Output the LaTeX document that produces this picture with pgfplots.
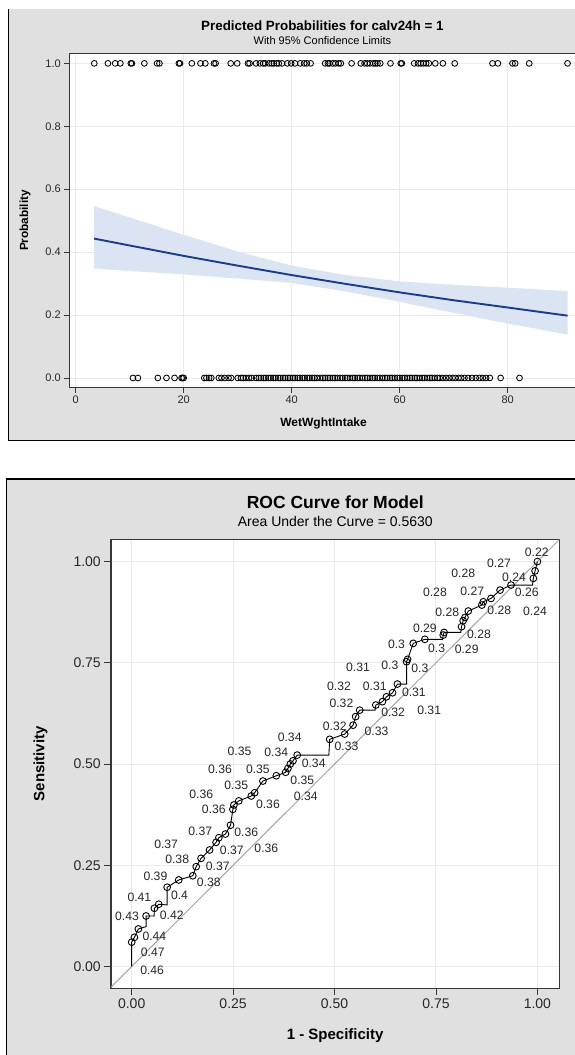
\documentclass[border=0pt]{standalone}
\usepackage{fontspec}
\setmainfont{Liberation Sans}
\usepackage{pgfplots}
\usepackage{pgfplotstable}
\pgfplotsset{compat=1.18}
\definecolor{panelgray}{RGB}{224,224,224}
\definecolor{framegray}{RGB}{55,55,55}
\definecolor{gridgray}{RGB}{234,234,234}
\definecolor{bandblue}{RGB}{218,228,242}
\definecolor{fitblue}{RGB}{28,60,138}
\definecolor{diaggray}{RGB}{165,165,165}
\definecolor{ticktext}{RGB}{40,40,40}

% ---------- top panel data ----------
\pgfplotstableread{
x y
3.43 1
5.95 1
7.3 1
8.26 1
10.2 1
10.4 1
12.7 1
15.06 1
15.5 1
19.1 1
19.3 1
21.5 1
23.1 1
24.0 1
25.6 1
25.9 1
28.7 1
29.9 1
31.9 1
32.2 1
33.4 1
34.1 1
34.7 1
35.1 1
35.8 1
36.3 1
36.7 1
37.2 1
37.6 1
38.2 1
39.2 1
39.9 1
40.6 1
41.6 1
42.3 1
42.8 1
43.5 1
46.2 1
46.7 1
47.0 1
47.6 1
48.1 1
48.7 1
49.1 1
51.1 1
52.8 1
53.5 1
54.0 1
54.5 1
55.1 1
55.5 1
55.9 1
56.4 1
58.3 1
60.2 1
60.4 1
62.7 1
63.4 1
63.9 1
64.4 1
64.9 1
65.4 1
66.6 1
68.0 1
70.2 1
77.2 1
78.2 1
80.9 1
81.4 1
84.0 1
91.1 1
}\obsone

\pgfplotstableread{
x y
10.6 0
11.5 0
15.2 0
16.8 0
18.3 0
19.6 0
19.8 0
20.0 0
23.8 0
24.2 0
24.7 0
25.1 0
26.5 0
27.0 0
27.6 0
28.3 0
28.8 0
30.0 0
30.6 0
31.0 0
31.5 0
32.1 0
32.6 0
33.4 0
33.9 0
34.3 0
34.8 0
35.2 0
35.7 0
36.1 0
36.6 0
37.0 0
37.5 0
37.9 0
38.4 0
38.8 0
39.3 0
39.7 0
40.2 0
40.6 0
41.1 0
41.5 0
42.0 0
42.4 0
42.9 0
43.3 0
43.8 0
44.2 0
44.7 0
45.3 0
45.8 0
46.2 0
46.7 0
47.1 0
47.6 0
48.0 0
48.5 0
49.0 0
49.4 0
49.9 0
50.3 0
50.8 0
51.3 0
51.7 0
52.2 0
52.6 0
53.1 0
53.6 0
54.0 0
54.5 0
55.0 0
55.4 0
55.9 0
56.3 0
56.8 0
57.3 0
57.7 0
58.2 0
58.6 0
59.1 0
59.6 0
60.0 0
60.5 0
60.9 0
61.4 0
61.9 0
62.3 0
62.8 0
63.2 0
63.7 0
64.2 0
64.6 0
65.1 0
65.6 0
66.0 0
66.5 0
67.0 0
67.4 0
68.0 0
68.6 0
69.2 0
69.8 0
70.3 0
70.9 0
71.4 0
72.0 0
72.7 0
73.4 0
74.1 0
74.8 0
75.4 0
76.0 0
76.7 0
78.7 0
82.2 0
}\obszero

\pgfplotstableread{
x y
3.4 0.546
10 0.510
20 0.455
30 0.402
40 0.357
50 0.327
60 0.307
70 0.296
80 0.287
91.1 0.276
91.1 0.138
80 0.173
70 0.207
60 0.242
50 0.275
40 0.302
30 0.316
20 0.329
10 0.340
3.4 0.348
}\band

\pgfplotstableread{
x y
3.4 0.443
10 0.421
20 0.388
30 0.357
40 0.327
50 0.299
60 0.272
70 0.247
80 0.224
91.1 0.198
}\fit

% ---------- ROC data ----------
\pgfplotstableread{
x y
0 0
0 0.060
0.0067 0.072
0.0165 0.0926
0.0355 0.0983
0.0355 0.1247
0.0553 0.1247
0.056 0.1437
0.0667 0.1536
0.0874 0.152
0.0874 0.1956
0.116 0.2136
0.1506 0.224
0.159 0.2465
0.171 0.267
0.192 0.2877
0.208 0.3066
0.2148 0.318
0.231 0.327
0.2437 0.349
0.2494 0.388
0.2519 0.3988
0.264 0.409
0.2948 0.421
0.303 0.429
0.3235 0.458
0.3565 0.471
0.3795 0.4795
0.385 0.489
0.391 0.5
0.3975 0.508
0.408 0.522
0.486 0.522
0.488 0.561
0.525 0.574
0.5457 0.596
0.552 0.617
0.562 0.633
0.600 0.633
0.6017 0.6457
0.618 0.654
0.628 0.666
0.643 0.676
0.655 0.6975
0.6775 0.6975
0.6775 0.7526
0.680 0.7585
0.694 0.798
0.7227 0.808
0.766 0.808
0.768 0.8185
0.770 0.825
0.811 0.825
0.813 0.839
0.817 0.854
0.8215 0.862
0.8297 0.8778
0.863 0.8926
0.8667 0.9007
0.8857 0.909
0.908 0.9296
0.935 0.942
0.988 0.942
0.990 0.9585
0.9943 0.977
1.0 1.0
}\rocline

\pgfplotstableread{
x y
0 0.060
0.0067 0.072
0.0165 0.0926
0.0355 0.1247
0.056 0.1437
0.0667 0.1536
0.0874 0.1956
0.116 0.2136
0.1506 0.224
0.159 0.2465
0.171 0.267
0.192 0.2877
0.208 0.3066
0.2148 0.318
0.231 0.327
0.2437 0.349
0.2494 0.388
0.2519 0.3988
0.264 0.409
0.2948 0.421
0.303 0.429
0.3235 0.458
0.3565 0.471
0.3795 0.4795
0.385 0.489
0.391 0.5
0.3975 0.508
0.408 0.522
0.488 0.561
0.525 0.574
0.5457 0.596
0.552 0.617
0.562 0.633
0.6017 0.6457
0.618 0.654
0.628 0.666
0.643 0.676
0.655 0.6975
0.6775 0.7526
0.680 0.7585
0.694 0.798
0.7227 0.808
0.768 0.8185
0.770 0.825
0.813 0.839
0.817 0.854
0.8215 0.862
0.8297 0.8778
0.863 0.8926
0.8667 0.9007
0.8857 0.909
0.908 0.9296
0.935 0.942
0.990 0.9585
0.9943 0.977
1.0 1.0
}\rocpts

\pgfplotstableread{
x y l
0.9985 1.0217 0.22
0.9054 0.9956 0.27
0.8173 0.9709 0.28
0.9425 0.961 0.24
0.7474 0.923 0.28
0.8395 0.9254 0.27
0.9738 0.923 0.26
0.7778 0.8746 0.28
0.9062 0.8802 0.28
0.9943 0.8778 0.24
0.7227 0.835 0.29
0.856 0.821 0.28
0.6528 0.7963 0.3
0.7516 0.7857 0.3
0.8257 0.7832 0.29
0.558 0.7378 0.31
0.6363 0.7444 0.3
0.7104 0.7363 0.3
0.5111 0.6926 0.32
0.5993 0.6926 0.31
0.6956 0.676 0.31
0.517 0.6499 0.32
0.6444 0.6267 0.32
0.7333 0.6333 0.31
0.5005 0.5921 0.32
0.6035 0.5815 0.33
0.5294 0.5427 0.33
0.3894 0.5659 0.34
0.2659 0.5304 0.35
0.3565 0.5279 0.34
0.4486 0.5025 0.34
0.2178 0.4877 0.36
0.3111 0.4877 0.35
0.2578 0.4481 0.35
0.4207 0.4605 0.35
0.1714 0.4259 0.36
0.4289 0.4193 0.34
0.2025 0.3881 0.36
0.3358 0.4012 0.36
0.1689 0.3346 0.37
0.2825 0.3304 0.36
0.0849 0.3017 0.37
0.2469 0.2877 0.37
0.3319 0.2919 0.36
0.1121 0.2647 0.38
0.2123 0.2481 0.37
0.0585 0.2217 0.39
0.1901 0.2069 0.38
0.1178 0.1765 0.4
0.019 0.1709 0.41
-0.0114 0.123 0.43
0.0988 0.1254 0.42
0.056 0.0736 0.44
0.0519 0.0341 0.47
0.0504 -0.0086 0.46
}\roclabels

\begin{document}
\begin{tikzpicture}
\useasboundingbox (0pt,0pt) rectangle (575pt,-1055pt);
\clip (0pt,0pt) rectangle (575pt,-1055pt);
% panels
\fill[panelgray] (8.3pt,-9pt) rectangle (580pt,-440.7pt);
\draw[black,line width=1.2pt] (8.3pt,-9pt) -- (8.3pt,-440.7pt) -- (580pt,-440.7pt);
\fill[panelgray] (6.7pt,-479pt) rectangle (580pt,-1060pt);
\draw[black,line width=1.2pt] (6.7pt,-1060pt) -- (6.7pt,-479pt) -- (580pt,-479pt);

\node[font=\bfseries\fontsize{13.4}{16}\selectfont] at (322.4pt,-26pt) {Predicted Probabilities for calv24h = 1};
\node[font=\fontsize{11}{13}\selectfont] at (322.4pt,-40.3pt) {With 95\% Confidence Limits};

\begin{axis}[
  at={(69.3pt,-387.7pt)}, anchor=south west,
  scale only axis, width=508.5pt, height=334.4pt,
  xmin=-1.2, xmax=93, ymin=-0.031, ymax=1.032,
  xtick={0,20,40,60,80},
  ytick={0,0.2,0.4,0.6,0.8,1},
  yticklabels={0.0,0.2,0.4,0.6,0.8,1.0},
  tick align=outside, tick pos=left,
  major tick length=5pt,
  tick style={color=framegray, line width=0.8pt},
  grid=major, grid style={color=gridgray, line width=0.8pt},
  axis line style={color=framegray, line width=1pt},
  axis background/.style={fill=white},
  tick label style={font=\fontsize{11}{13}\selectfont, color=ticktext},
  /pgf/number format/assume math mode=true,
  xlabel={WetWghtIntake},
  ylabel={Probability},
  xlabel style={at={(axis description cs:0.5,-0.107)}, anchor=center, font=\bfseries\fontsize{12}{14}\selectfont},
  ylabel style={at={(axis description cs:-0.087,0.5)}, anchor=center, font=\bfseries\fontsize{11.8}{14}\selectfont},
  clip=false,
]
\addplot[fill=bandblue, draw=none] table {\band} -- cycle;
\addplot[fitblue, line width=1.9pt] table {\fit};
\addplot[only marks, mark=o, mark size=2.9pt, mark options={line width=0.85pt, draw=black}] table {\obsone};
\addplot[only marks, mark=o, mark size=2.9pt, mark options={line width=0.85pt, draw=black}] table {\obszero};
\end{axis}

\node[font=\bfseries\fontsize{17.5}{20}\selectfont] at (335.3pt,-502.7pt) {ROC Curve for Model};
\node[font=\fontsize{14}{16}\selectfont] at (335.3pt,-521.7pt) {Area Under the Curve = 0.5630};

\begin{axis}[
  at={(111pt,-988.3pt)}, anchor=south west,
  scale only axis, width=448.3pt, height=449pt,
  xmin=-0.051, xmax=1.054, ymin=-0.054, ymax=1.055,
  xtick={0,0.25,0.5,0.75,1},
  xticklabels={0.00,0.25,0.50,0.75,1.00},
  ytick={0,0.25,0.5,0.75,1},
  yticklabels={0.00,0.25,0.50,0.75,1.00},
  tick align=outside, tick pos=left,
  major tick length=6.7pt,
  tick style={color=framegray, line width=0.9pt},
  grid=major, grid style={color=gridgray, line width=1pt},
  axis line style={color=framegray, line width=1.1pt},
  axis background/.style={fill=white},
  tick label style={font=\fontsize{14}{16}\selectfont, color=ticktext},
  /pgf/number format/assume math mode=true,
  xlabel={1 - Specificity},
  ylabel={Sensitivity},
  xlabel style={at={(axis description cs:0.5,-0.106)}, anchor=center, font=\bfseries\fontsize{15}{17}\selectfont},
  ylabel style={at={(axis description cs:-0.157,0.5)}, anchor=center, font=\bfseries\fontsize{15}{17}\selectfont},
]
\addplot[diaggray, line width=1pt] coordinates {(-0.1,-0.1) (1.1,1.1)};
\addplot[black, line width=0.9pt] table {\rocline};
\addplot[only marks, mark=o, mark size=3.4pt, mark options={line width=0.9pt, draw=black}] table {\rocpts};
\addplot[draw=none, nodes near coords, point meta=explicit symbolic,
  every node near coord/.style={anchor=center, inner sep=0pt, font=\fontsize{12.2}{14}\selectfont, color=ticktext}]
  table[meta=l] {\roclabels};
\end{axis}
\end{tikzpicture}
\end{document}
